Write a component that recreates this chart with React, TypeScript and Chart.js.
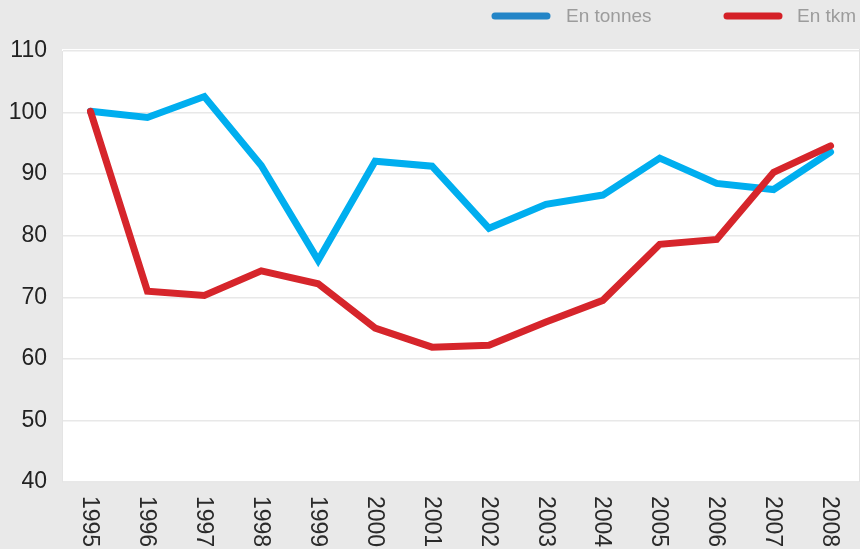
import React, { useEffect, useRef } from "react";
import { Chart, registerables } from "chart.js";

Chart.register(...registerables);

const years = ["1995","1996","1997","1998","1999","2000","2001","2002","2003","2004","2005","2006","2007","2008"];
const enTonnes = [100.2, 99.2, 102.6, 91.4, 76.0, 92.1, 91.3, 81.2, 85.1, 86.6, 92.6, 88.5, 87.5, 93.6];
const enTkm = [100.2, 71.0, 70.3, 74.3, 72.2, 65.0, 61.9, 62.2, 66.0, 69.5, 78.6, 79.4, 90.3, 94.6];
const legendLabels = ["En tonnes", "En tkm"];
const yMin = 40;
const yMax = 110;
const yStep = 10;

const FONT = "'Liberation Sans', Arial, Helvetica, sans-serif";

const bgPlugin = {
  id: "bgPlugin",
  beforeDraw(chart: any) {
    const { ctx, chartArea } = chart;
    ctx.save();
    ctx.fillStyle = "#e9e9e9";
    ctx.fillRect(0, 0, chart.width, chart.height);
    ctx.fillStyle = "#ffffff";
    ctx.fillRect(chartArea.left, chartArea.top - 2, chartArea.right - chartArea.left, chartArea.bottom - chartArea.top + 2);
    ctx.strokeStyle = "#e2e2e2";
    ctx.lineWidth = 1;
    ctx.beginPath();
    ctx.moveTo(chartArea.right + 0.5, chartArea.top - 2);
    ctx.lineTo(chartArea.right + 0.5, chartArea.bottom);
    ctx.stroke();
    ctx.restore();
  },
};

const xLabelPlugin = {
  id: "xLabelPlugin",
  afterDraw(chart: any) {
    const { ctx, chartArea } = chart;
    const xs = chart.scales.x;
    ctx.save();
    ctx.fillStyle = "#2a2a2a";
    ctx.font = `23px ${FONT}`;
    ctx.textAlign = "left";
    ctx.textBaseline = "middle";
    years.forEach((lab, i) => {
      const x = xs.getPixelForValue(i);
      ctx.save();
      ctx.translate(x - 1, chartArea.bottom + 14);
      ctx.rotate(Math.PI / 2);
      ctx.fillText(lab, 0, 0);
      ctx.restore();
    });
    ctx.restore();
  },
};

const legendPlugin = {
  id: "legendPlugin",
  afterDraw(chart: any) {
    const { ctx } = chart;
    const items = [
      { label: legendLabels[0], color: "#2385c7", x1: 492, x2: 550, tx: 566 },
      { label: legendLabels[1], color: "#d42027", x1: 724, x2: 782, tx: 797 },
    ];
    ctx.save();
    ctx.font = `19px ${FONT}`;
    ctx.textBaseline = "middle";
    ctx.textAlign = "left";
    items.forEach((it) => {
      ctx.strokeStyle = it.color;
      ctx.lineWidth = 7;
      ctx.lineCap = "round";
      ctx.beginPath();
      ctx.moveTo(it.x1 + 3, 16);
      ctx.lineTo(it.x2 - 3, 16);
      ctx.stroke();
      ctx.fillStyle = "#9c9c9c";
      ctx.fillText(it.label, it.tx, 17);
    });
    ctx.restore();
  },
};

export default function App() {
  const ref = useRef<HTMLCanvasElement>(null);
  useEffect(() => {
    if (!ref.current) return;
    const chart = new Chart(ref.current, {
      type: "line",
      data: {
        labels: years,
        datasets: [
          {
            label: legendLabels[0],
            data: enTonnes,
            borderColor: "#00aeef",
            backgroundColor: "#00aeef",
            borderWidth: 7,
            pointRadius: 0,
            tension: 0,
            borderCapStyle: "round",
            borderJoinStyle: "miter",
            order: 2,
          },
          {
            label: legendLabels[1],
            data: enTkm,
            borderColor: "#d6252b",
            backgroundColor: "#d6252b",
            borderWidth: 7,
            pointRadius: 0,
            tension: 0,
            borderCapStyle: "round",
            borderJoinStyle: "miter",
            order: 1,
          },
        ],
      },
      options: {
        responsive: false,
        animation: false,
        layout: { padding: { top: 51, left: 0, right: 1, bottom: 0 } },
        plugins: { legend: { display: false }, tooltip: { enabled: false } },
        scales: {
          x: {
            type: "category",
            offset: true,
            grid: { display: false, drawTicks: false },
            border: { display: false },
            ticks: { display: false },
            afterFit(axis: any) {
              axis.height = 67;
            },
          },
          y: {
            min: yMin,
            max: yMax,
            ticks: {
              stepSize: yStep,
              color: "#222222",
              font: { family: FONT, size: 23 },
              padding: 15,
            },
            grid: { color: "#e8e8e8", lineWidth: 1.5, drawTicks: false },
            border: { display: true, color: "#e4e4e4" },
            afterFit(axis: any) {
              axis.width = 62;
            },
          },
        },
      },
      plugins: [bgPlugin, xLabelPlugin, legendPlugin],
    });
    return () => chart.destroy();
  }, []);
  return (
    <div style={{ position: "absolute", left: 0, top: 0, width: 860, height: 549 }}>
      <canvas ref={ref} width={860} height={549} style={{ width: 860, height: 549, display: "block" }} />
    </div>
  );
}
